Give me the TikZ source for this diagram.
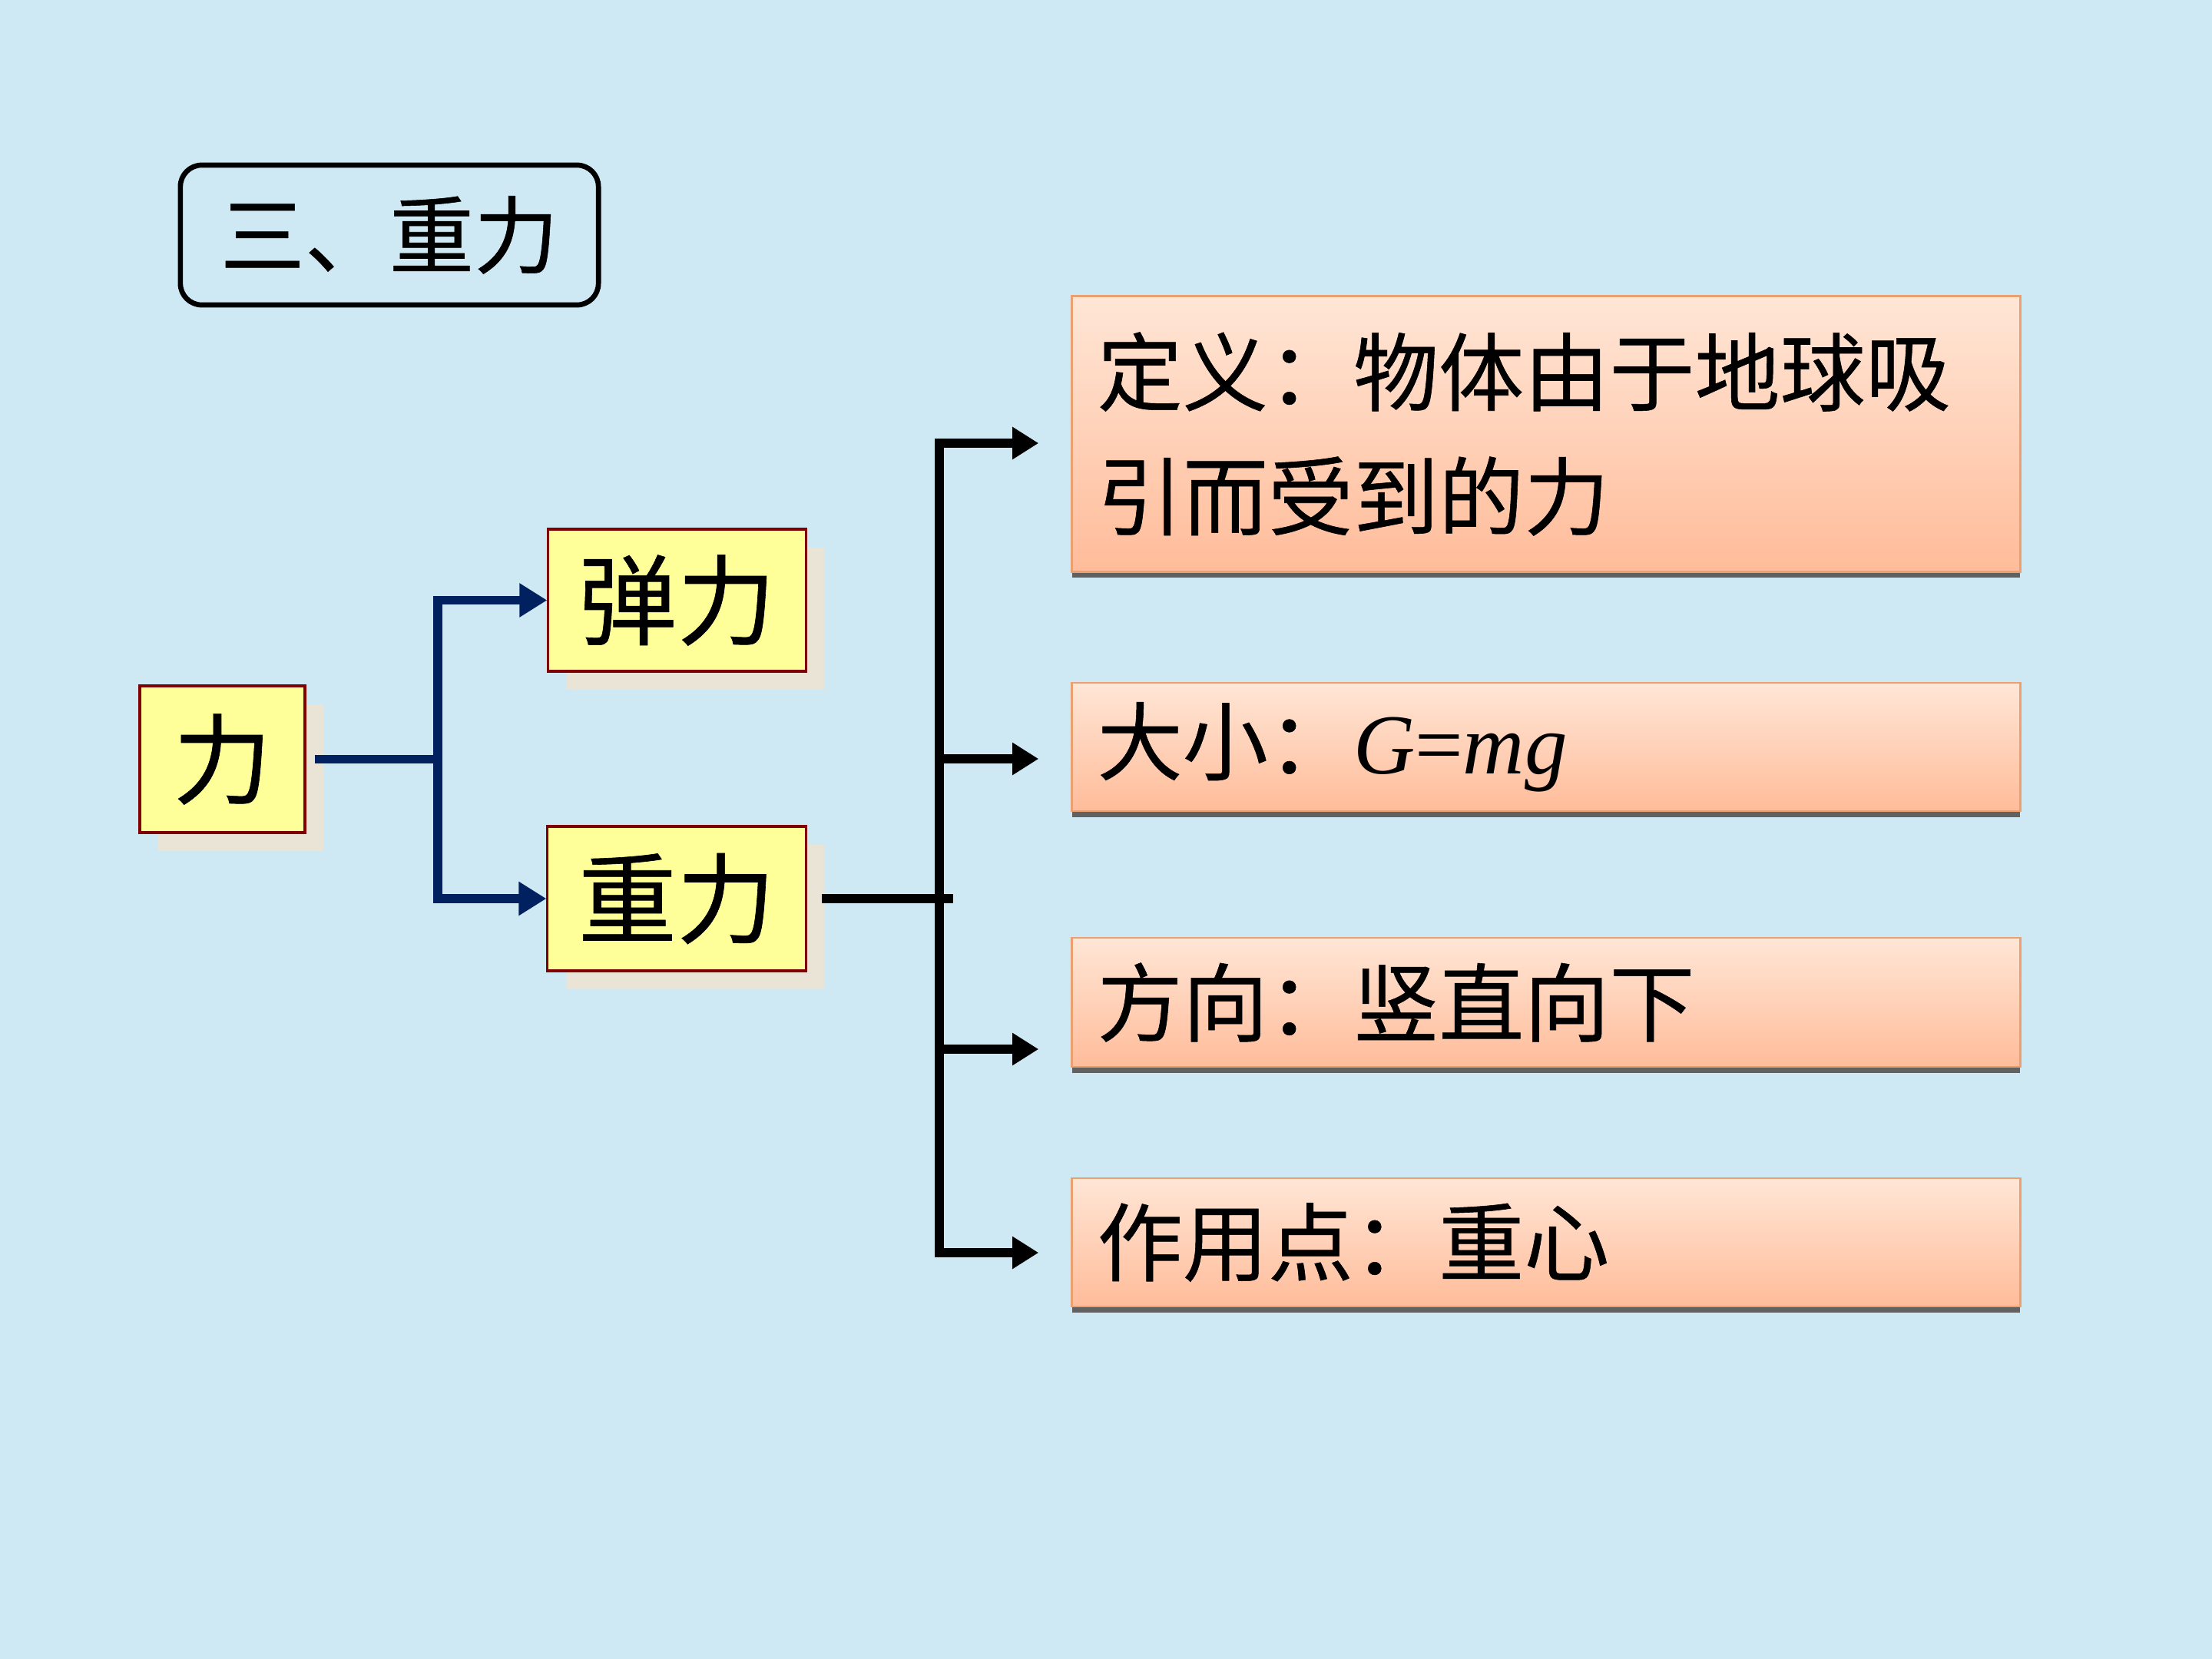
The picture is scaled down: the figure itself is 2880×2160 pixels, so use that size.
\documentclass[tikz,border=0pt]{standalone}
\usepackage{fontspec}
\newfontfamily\cjk[FakeBold=0.5]{Noto Sans CJK SC}
\newfontfamily\tms{Liberation Serif}
\usetikzlibrary{arrows.meta,positioning,shadows}
\definecolor{bgblue}{RGB}{206,233,244}
\definecolor{navy}{RGB}{0,32,96}
\definecolor{lemon}{RGB}{255,255,153}
\definecolor{brick}{RGB}{128,0,0}
\definecolor{shade}{RGB}{234,228,214}
\definecolor{peachtop}{RGB}{255,230,214}
\definecolor{peachbot}{RGB}{255,188,154}
\definecolor{peachline}{RGB}{236,160,112}
\tikzset{
  tbox/.style={draw=black, rounded corners=0.28cm, line width=1.9pt,
               minimum width=5.44cm, minimum height=1.82cm, inner sep=0pt,
               font=\cjk\fontsize{31.3}{36}\selectfont},
  ybox/.style={draw=brick, fill=lemon, line width=0.9pt, inner sep=0pt,
               font=\cjk\fontsize{36.5}{40}\selectfont,
               drop shadow={shadow xshift=0.24cm, shadow yshift=-0.24cm,
                            fill=shade, opacity=1}},
  pbox/.style={draw=peachline, top color=peachtop, bottom color=peachbot,
               line width=0.8pt, text width=11.68cm, align=left,
               inner xsep=0.33cm, inner ysep=0pt,
               font=\cjk\fontsize{31.6}{46}\selectfont,
               drop shadow={shadow xshift=0cm, shadow yshift=-0.08cm,
                            fill=black!62, opacity=1}},
  nconn/.style={navy, line width=3.4pt, -{Triangle[length=0.36cm,width=0.42cm]}},
  nline/.style={navy, line width=3.4pt},
  kconn/.style={black, line width=3.4pt, shorten >=0.42cm,
                -{Triangle[length=0.34cm,width=0.4cm]}},
  kline/.style={black, line width=3.4pt, line cap=rect},
}
\begin{document}
\begin{tikzpicture}[x=0.01cm,y=-0.01cm]
  \fill[bgblue] (0,0) rectangle (2880,2160);
  \useasboundingbox (0,0) rectangle (2880,2160);

  % --- baslik ---
  \node[tbox] (title) at (507,306) {三、重力};

  % --- sol kutular ---
  \node[ybox, minimum width=2.15cm, minimum height=1.91cm] (li) at (289.5,988.5) {力};
  \node[ybox, minimum width=3.35cm, minimum height=1.85cm] (tanli) at (881.5,781.5) {弹力};
  \node[ybox, minimum width=3.36cm, minimum height=1.88cm] (zhongli) at (881,1170) {重力};

  % --- sag kutular ---
  \node[pbox, minimum height=3.58cm] (def) at (2013,565) {定义：物体由于地球吸\\引而受到的力};
  \node[pbox, minimum height=1.67cm] (size) at (2013,972.5)
    {大小：{\tms\itshape G}{\tms =}{\tms\itshape mg}};
  \node[pbox, minimum height=1.68cm] (dir) at (2013,1305) {方向：竖直向下};
  \node[pbox, minimum height=1.67cm] (pt) at (2013,1617.5) {作用点：重心};

  % --- mavi oklar ---
  \coordinate (lsplit) at ([xshift=1.71cm]li.east);
  \draw[nline] ([xshift=0.11cm]li.east) -- (lsplit);
  \draw[nconn] (lsplit) |- (tanli.west);
  \draw[nconn] (lsplit) |- (zhongli.west);

  % --- siyah oklar ---
  \coordinate (trunk) at ([xshift=1.72cm]zhongli.east);
  \draw[kline] ([xshift=0.25cm]zhongli.east) -- ([xshift=0.12cm]trunk);
  \draw[kline] (trunk |- 0,1631) -- (trunk |- 0,577);
  \foreach \b/\y in {def/577,size/988,dir/1366,pt/1631}{
    \draw[kconn] (trunk |- 0,\y) -- (\b.west |- 0,\y);
  }
\end{tikzpicture}
\end{document}
